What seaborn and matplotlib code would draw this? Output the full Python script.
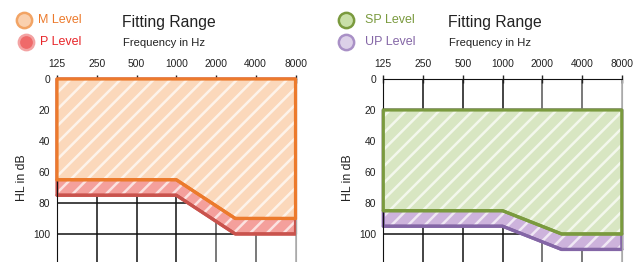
import matplotlib
matplotlib.use("Agg")
import matplotlib.pyplot as plt
import matplotlib.ticker as mticker
import seaborn as sns
import pandas as pd

# Audiogram axes
freq_ticks = [125, 250, 500, 1000, 2000, 4000, 8000]
hl_ticks = [0, 20, 40, 60, 80, 100]

# Fitting ranges (frequency corners, upper and lower HL limits)
range_freq = [125, 1000, 2800, 8000]
m_top = [0, 0, 0, 0]
m_bottom = [65, 65, 90, 90]
p_top = [0, 0, 0, 0]
p_bottom = [75, 75, 100, 100]
sp_top = [20, 20, 20, 20]
sp_bottom = [85, 85, 100, 100]
up_top = [20, 20, 20, 20]
up_bottom = [95, 95, 110, 110]

sns.set_style("white")
plt.rcParams["font.family"] = ["Liberation Sans", "DejaVu Sans"]
plt.rcParams["hatch.linewidth"] = 1.8

W, H = 643, 262
fig = plt.figure(figsize=(W / 100, H / 100), dpi=100)


def draw_range(ax, top, bottom, face, edge, z):
    df = pd.DataFrame({"freq": range_freq, "top": top, "bottom": bottom})
    ax.fill_between(df["freq"], df["top"], df["bottom"], facecolor=face,
                    edgecolor="none", zorder=z)
    ax.fill_between(df["freq"], df["top"], df["bottom"], facecolor="none",
                    edgecolor=(1, 1, 1, 0.7), hatch="//", linewidth=0, zorder=z)
    outline = ax.fill_between(df["freq"], df["top"], df["bottom"], facecolor="none",
                              edgecolor=edge, linewidth=2.3, zorder=z + 0.5,
                              clip_on=False)
    outline.set_joinstyle("round")
    sns.lineplot(data=df, x="freq", y="bottom", ax=ax, color=edge, lw=2.3,
                 zorder=z + 0.5, solid_joinstyle="round", solid_capstyle="round",
                 clip_on=False)


def setup_axes(left_px):
    ax = fig.add_axes([left_px / W, 0, 238.5 / W, 183 / H])
    ax.set_xscale("log", base=2)
    ax.set_xlim(125, 8000)
    ax.set_ylim(118.1, 0)
    ax.xaxis.set_major_locator(mticker.FixedLocator(freq_ticks))
    ax.xaxis.set_minor_locator(mticker.NullLocator())
    ax.set_xticklabels([str(f) for f in freq_ticks])
    ax.set_yticks(hl_ticks)
    ax.xaxis.tick_top()
    ax.tick_params(axis="both", direction="inout", length=6, width=1,
                   labelsize=7.4, colors="#222222", pad=2)
    ax.tick_params(axis="x", pad=4)
    ax.grid(True, color="#111111", lw=1.1)
    ax.set_axisbelow(True)
    for i, gl in enumerate(ax.get_xgridlines()):
        if i in (4, 5):
            gl.set_color("#555555")
        elif i == 6:
            gl.set_color("#aaaaaa")
    ax.spines["bottom"].set_visible(False)
    ax.spines["left"].set_color("#111111")
    ax.spines["top"].set_color("#111111")
    ax.spines["right"].set_color("#aaaaaa")
    return ax


def finish_labels(ax):
    ax.set_xlabel("")
    ax.set_ylabel("HL in dB", fontsize=8.8, color="#222222")
    ax.yaxis.set_label_coords(-0.121, 0.46)


ax1 = setup_axes(57)
draw_range(ax1, p_top, p_bottom, "#f4a09c", "#c9534d", 2)
draw_range(ax1, m_top, m_bottom, "#fbd8bb", "#ec7a2c", 3)
finish_labels(ax1)

ax2 = setup_axes(383.3)
draw_range(ax2, up_top, up_bottom, "#cdb3dc", "#8466a6", 2)
draw_range(ax2, sp_top, sp_bottom, "#d8e6c2", "#7a9a3e", 3)
finish_labels(ax2)


def legend_item(xc, yc, face, edge, label, color, text_x):
    fig.add_artist(plt.Line2D([xc / W], [1 - yc / H], marker="o", markersize=11,
                              markerfacecolor=face, markeredgecolor=edge,
                              markeredgewidth=1.8, transform=fig.transFigure))
    fig.text(text_x / W, 1 - yc / H, label, color=color, fontsize=9,
             va="center", ha="left")


legend_item(23.5, 20, "#fad0ae", "#f2a465", "M Level", "#ec7a2c", 37.5)
legend_item(25.5, 42, "#ef6a6a", "#f3a3a3", "P Level", "#e8262a", 40)
legend_item(346, 20, "#c9dfa8", "#7a9a3e", "SP Level", "#7a9a3e", 365)
legend_item(346, 42, "#dcd0e8", "#a990c6", "UP Level", "#8466a6", 365)

for x0 in (122, 448):
    fig.text(x0 / W, 1 - 22 / H, "Fitting Range", fontsize=11.3, color="#222222",
             va="center", ha="left")
    fig.text((x0 + 1) / W, 1 - 43 / H, "Frequency in Hz", fontsize=8.1,
             color="#222222", va="center", ha="left")

fig.savefig("out.png", dpi=100)
